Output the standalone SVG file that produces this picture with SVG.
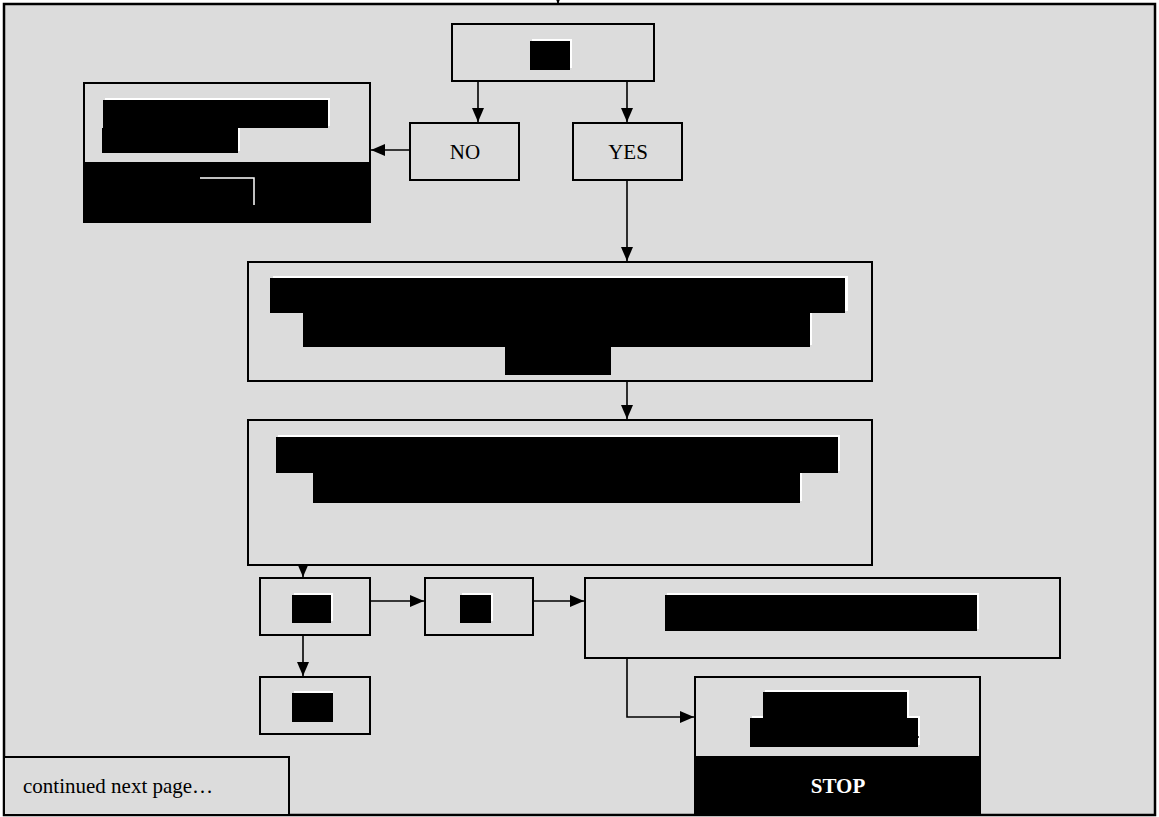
<svg xmlns="http://www.w3.org/2000/svg" width="1159" height="817" viewBox="0 0 1159 817">
<style>
.box{fill:#dcdcdc;stroke:#000;stroke-width:2}
.blk{fill:#000}
.hl{fill:#fff}
.lbl{font-family:"Liberation Serif",serif;font-size:21px;fill:#000}
.stop{font-family:"Liberation Serif",serif;font-size:21px;font-weight:bold;fill:#fff}
.con{stroke:#000;stroke-width:1.6;fill:none}
</style>
<defs>
<marker id="arr" viewBox="0 0 14 12" refX="14" refY="6" markerWidth="14" markerHeight="12" markerUnits="userSpaceOnUse" orient="auto">
<path d="M0,0 L14,6 L0,12 z" fill="#000"/>
</marker>
</defs>
<rect width="1159" height="817" fill="#fff"/>
<rect id="frame" x="4" y="4" width="1151" height="811" fill="#dcdcdc" stroke="#000" stroke-width="2.5"/>

<g id="connectors">
<line class="con" x1="558" y1="-10" x2="558" y2="4" marker-end="url(#arr)"/>
<line class="con" x1="478" y1="81" x2="478" y2="122" marker-end="url(#arr)"/>
<line class="con" x1="627" y1="81" x2="627" y2="122" marker-end="url(#arr)"/>
<line class="con" x1="410" y1="150" x2="371" y2="150" marker-end="url(#arr)"/>
<line class="con" x1="627" y1="180" x2="627" y2="261" marker-end="url(#arr)"/>
<line class="con" x1="627" y1="381" x2="627" y2="419" marker-end="url(#arr)"/>
<line class="con" x1="303" y1="565" x2="303" y2="577" marker-end="url(#arr)"/>
<line class="con" x1="370" y1="601" x2="424" y2="601" marker-end="url(#arr)"/>
<line class="con" x1="533" y1="601" x2="584" y2="601" marker-end="url(#arr)"/>
<line class="con" x1="303" y1="635" x2="303" y2="676" marker-end="url(#arr)"/>
<polyline class="con" points="627,658 627,717 694,717" marker-end="url(#arr)"/>
</g>

<g id="n-top">
<rect class="box" x="452" y="24" width="202" height="57"/>
<rect class="hl" x="532" y="39" width="40" height="29"/>
<rect class="blk" x="530" y="41" width="40" height="29"/>
</g>

<g id="n-no">
<rect class="box" x="410" y="123" width="109" height="57"/>
<text class="lbl" x="465" y="159" text-anchor="middle">NO</text>
</g>

<g id="n-yes">
<rect class="box" x="573" y="123" width="109" height="57"/>
<text class="lbl" x="628" y="159" text-anchor="middle">YES</text>
</g>

<g id="n-left">
<rect class="box" x="84" y="83" width="286" height="139"/>
<rect class="blk" x="84" y="162" width="286" height="60"/>
<rect class="hl" x="105" y="98" width="225" height="28"/>
<rect class="hl" x="105" y="126" width="135" height="25"/>
<rect class="blk" x="103" y="100" width="225" height="28"/>
<rect class="blk" x="102" y="128" width="136" height="25"/>
<polyline points="200,178 254,178 254,205" fill="none" stroke="#fff" stroke-width="1.5"/>
</g>

<g id="n-3">
<rect class="box" x="248" y="262" width="624" height="119"/>
<rect class="hl" x="273" y="276" width="575" height="35"/>
<rect class="hl" x="305" y="311" width="507" height="34"/>
<rect class="blk" x="270" y="278" width="575" height="35"/>
<rect class="blk" x="303" y="313" width="507" height="34"/>
<rect class="blk" x="505" y="347" width="106" height="28"/>
</g>

<g id="n-4">
<rect class="box" x="248" y="420" width="624" height="145"/>
<rect class="hl" x="278" y="435" width="562" height="36"/>
<rect class="hl" x="315" y="471" width="487" height="30"/>
<rect class="blk" x="276" y="437" width="562" height="36"/>
<rect class="blk" x="313" y="473" width="487" height="30"/>
</g>

<g id="n-a">
<rect class="box" x="260" y="578" width="110" height="57"/>
<rect class="hl" x="294" y="593" width="39" height="28"/>
<rect class="blk" x="292" y="595" width="39" height="28"/>
</g>

<g id="n-b">
<rect class="box" x="425" y="578" width="108" height="57"/>
<rect class="hl" x="462" y="593" width="31" height="28"/>
<rect class="blk" x="460" y="595" width="31" height="28"/>
</g>

<g id="n-c">
<rect class="box" x="585" y="578" width="475" height="80"/>
<rect class="hl" x="667" y="593" width="312" height="36"/>
<rect class="blk" x="665" y="595" width="312" height="36"/>
</g>

<g id="n-d">
<rect class="box" x="260" y="677" width="110" height="57"/>
<rect class="hl" x="294" y="691" width="39" height="29"/>
<rect class="blk" x="292" y="693" width="41" height="29"/>
</g>

<g id="n-stop">
<rect class="box" x="695" y="677" width="285" height="138"/>
<rect class="blk" x="695" y="756" width="285" height="59"/>
<rect class="hl" x="765" y="690" width="144" height="26"/>
<rect class="hl" x="752" y="716" width="168" height="29"/>
<rect class="blk" x="763" y="692" width="144" height="26"/>
<rect class="blk" x="750" y="718" width="168" height="29"/>
<circle cx="918" cy="737" r="1" fill="#000"/>
<text class="stop" x="838" y="793" text-anchor="middle">STOP</text>
</g>

<g id="n-cont">
<rect class="box" x="4" y="757" width="285" height="58"/>
<text class="lbl" x="23" y="793">continued next page…</text>
</g>
</svg>
